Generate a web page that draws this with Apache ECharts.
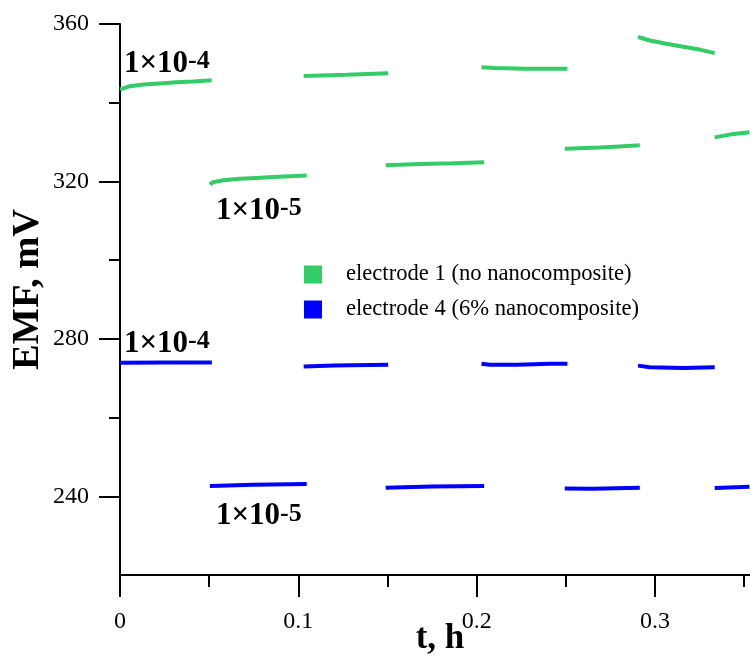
<!DOCTYPE html>
<html><head><meta charset="utf-8">
<script src="https://cdn.jsdelivr.net/npm/echarts@6/dist/echarts.min.js"></script>
<style>html,body{margin:0;padding:0;background:#fff}#c{width:750px;height:664px}</style>
</head><body><div id="c"></div>
<script>
// Legend names
const seriesNames = ['electrode 1 (no nanocomposite)', 'electrode 4 (6% nanocomposite)'];

// Electrode 1, 1x10-4 segments [t (h), EMF (mV)]
const e1High = [
  [[0,343.4],[0.001,343.9],[0.0056,344.2],[0.013,344.6],[0.0224,344.9],[0.0318,345.2],[0.0411,345.4],[0.0514,345.7]],
  [[0.103,346.8],[0.127,347.1],[0.1504,347.5]],
  [[0.2027,349.0],[0.21,348.8],[0.228,348.65],[0.2509,348.6]],
  [[0.2905,356.7],[0.2971,355.8],[0.3064,355.0],[0.3158,354.2],[0.3251,353.5],[0.3335,352.6]]
];
// Electrode 1, 1x10-5 segments
const e1Low = [
  [[0.0504,319.2],[0.052,319.8],[0.058,320.3],[0.0673,320.7],[0.0766,320.9],[0.0859,321.1],[0.0953,321.3],[0.1047,321.5]],
  [[0.149,324.1],[0.1682,324.4],[0.1868,324.6],[0.2042,324.9]],
  [[0.2494,328.3],[0.2690,328.6],[0.2800,328.9],[0.2915,329.2]],
  [[0.3335,331.2],[0.342,331.9],[0.353,332.5]]
];
// Electrode 4, 1x10-4 segments
const e4High = [
  [[0,273.9],[0.025,274.0],[0.0515,274.0]],
  [[0.103,273.0],[0.12,273.2],[0.1504,273.4]],
  [[0.2027,273.7],[0.2074,273.4],[0.2224,273.45],[0.2410,273.65],[0.2509,273.7]],
  [[0.2905,273.2],[0.2971,272.8],[0.3158,272.6],[0.3335,272.8]]
];
// Electrode 4, 1x10-5 segments
const e4Low = [
  [[0.0504,242.6],[0.075,242.9],[0.1047,243.1]],
  [[0.149,242.2],[0.175,242.5],[0.2042,242.6]],
  [[0.2494,242.0],[0.265,241.9],[0.2915,242.2]],
  [[0.3335,242.1],[0.353,242.4]]
];

// Concentration annotations: [t, EMF] anchor (left-middle of text)
const annotExp = ['-4', '-5', '-4', '-5'];
const annotPos = [[0.0022, 349.9], [0.0538, 312.6], [0.0022, 278.8], [0.0538, 234.9]];

// Axis ticks
const xMajor = [0, 0.1, 0.2, 0.3];
const xMinor = [0.05, 0.15, 0.25, 0.35];
const yMajor = [240, 280, 320, 360];
const yMinor = [260, 300, 340];

const green = '#33cc66', blue = '#0000ff';
const font = 'Liberation Serif';

const chart = echarts.init(document.getElementById('c'), null, {renderer: 'canvas'});

function segSeries(segs, name, color) {
  return segs.map(d => ({
    type: 'line', name: name, data: d, showSymbol: false, symbol: 'none',
    lineStyle: {color: color, width: 4}, itemStyle: {color: color},
    xAxisIndex: 0, yAxisIndex: 0, silent: true, animation: false
  }));
}

const series = [].concat(
  segSeries(e1High, seriesNames[0], green),
  segSeries(e1Low, seriesNames[0], green),
  segSeries(e4High, seriesNames[1], blue),
  segSeries(e4Low, seriesNames[1], blue),
  [{
    type: 'scatter', name: 'labels', symbolSize: 0, silent: true, animation: false,
    itemStyle: {opacity: 1},
    data: annotPos.map((p, i) => ({value: p})),
    label: {
      show: true, position: 'right', distance: 0, color: '#000', opacity: 1,
      formatter: p => '{b|1×10}{s|' + annotExp[p.dataIndex] + '}',
      rich: {
        b: {fontFamily: font, fontWeight: 'bold', fontSize: 31, color: '#000', lineHeight: 31},
        s: {fontFamily: font, fontWeight: 'bold', fontSize: 26, color: '#000', lineHeight: 26, verticalAlign: 'top'}
      }
    }
  }]
);

const axisLineStyle = {color: '#000', width: 2};

chart.setOption({
  animation: false,
  backgroundColor: '#fff',
  grid: {left: 120, right: 0, top: 24, bottom: 89, containLabel: false, outerBoundsMode: 'none'},
  legend: {
    orient: 'vertical', left: 304, top: 263, padding: 0,
    itemWidth: 18, itemHeight: 18, itemGap: 12,
    data: [{name: seriesNames[0], icon: 'rect'}, {name: seriesNames[1], icon: 'rect'}],
    textStyle: {fontFamily: font, fontSize: 22.6, color: '#000', padding: [0, 0, 0, 19]},
    selectedMode: false
  },
  xAxis: [{
    type: 'value', min: 0, max: 0.3533, interval: 0.05,
    name: 't, h', nameLocation: 'middle', nameGap: 46, nameMoveOverlap: false,
    nameTextStyle: {fontFamily: font, fontWeight: 'bold', fontSize: 35, color: '#000', padding: [0, 0, 0, 10]},
    axisLine: {show: true, onZero: false, lineStyle: axisLineStyle},
    axisTick: {show: true, customValues: xMajor, length: 22, lineStyle: axisLineStyle},
    axisLabel: {customValues: xMajor, fontFamily: font, fontSize: 24, color: '#000', margin: 35},
    splitLine: {show: false}
  }, {
    type: 'value', min: 0, max: 0.3533, interval: 0.05, position: 'bottom', offset: 0,
    axisLine: {show: false}, axisLabel: {show: false}, splitLine: {show: false},
    axisTick: {show: true, customValues: xMinor, length: 12, lineStyle: axisLineStyle}
  }],
  yAxis: [{
    type: 'value', min: 220, max: 360, interval: 20,
    name: 'EMF, mV', nameLocation: 'middle', nameGap: 72, nameMoveOverlap: false,
    nameTextStyle: {fontFamily: font, fontWeight: 'bold', fontSize: 38.5, color: '#000', padding: [0, 0, 0, 20]},
    axisLine: {show: true, onZero: false, lineStyle: axisLineStyle},
    axisTick: {show: true, customValues: yMajor, length: 21, lineStyle: axisLineStyle},
    axisLabel: {customValues: yMajor, fontFamily: font, fontSize: 24, color: '#000', margin: 31},
    splitLine: {show: false}
  }, {
    type: 'value', min: 220, max: 360, interval: 20, position: 'left', offset: 0,
    axisLine: {show: false}, axisLabel: {show: false}, splitLine: {show: false},
    axisTick: {show: true, customValues: yMinor, length: 11, lineStyle: axisLineStyle}
  }],
  series: series
});
</script>
</body></html>
